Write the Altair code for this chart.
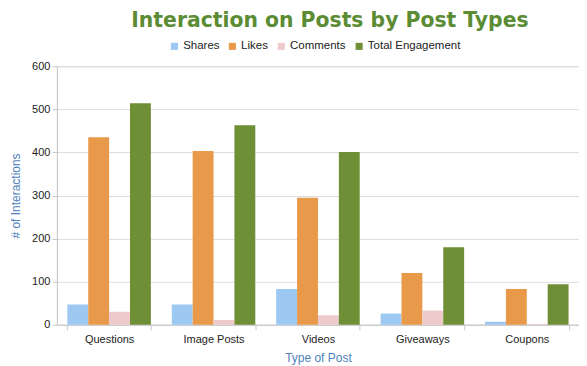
import altair as alt
import pandas as pd

categories = ["Questions", "Image Posts", "Videos", "Giveaways", "Coupons"]
series = ["Shares", "Likes", "Comments", "Total Engagement"]
shares = [47, 47, 83, 26, 7]
likes = [435, 403, 295, 120, 83]
comments = [30, 11, 22, 33, 2]
total = [514, 463, 401, 180, 94]
colors = ["#9CC8F2", "#E8994A", "#EECACA", "#6F8F36"]

rows = []
for i, c in enumerate(categories):
    for s, vals in zip(series, [shares, likes, comments, total]):
        rows.append({"Type": c, "Series": s, "Value": vals[i]})
df = pd.DataFrame(rows)

chart = alt.Chart(df).mark_bar().encode(
    x=alt.X("Type:N", sort=categories, title="Type of Post",
            scale=alt.Scale(paddingInner=0.2, paddingOuter=0.1),
            axis=alt.Axis(labelAngle=0, labelFontSize=11, labelColor="#222222",
                          titleColor="#4F81BD", titleFontSize=12, titleFontWeight="normal",
                          titlePadding=8, domainColor="#C8C8C8", tickColor="#C8C8C8",
                          tickBand="extent", labelPadding=4)),
    xOffset=alt.XOffset("Series:N", sort=series),
    y=alt.Y("Value:Q", title="# of Interactions",
            scale=alt.Scale(domain=[0, 600]),
            axis=alt.Axis(values=[0, 100, 200, 300, 400, 500, 600], labelFontSize=11,
                          labelColor="#222222", titleColor="#4F81BD", titleFontSize=12,
                          titleFontWeight="normal", titlePadding=9, gridColor="#DDDDDD",
                          domainColor="#C8C8C8", tickColor="#C8C8C8", tickSize=5)),
    color=alt.Color("Series:N", sort=series,
                    scale=alt.Scale(domain=series, range=colors),
                    legend=alt.Legend(orient="none", legendX=112, legendY=-26,
                                      direction="horizontal", title=None,
                                      symbolType="square", symbolSize=50, symbolStrokeWidth=0,
                                      labelFontSize=11.5, labelColor="#222222", labelOffset=3,
                                      columnPadding=7, symbolOffset=0)),
).properties(
    width=523, height=259,
    title=alt.TitleParams("Interaction on Posts by Post Types", fontSize=20.4,
                          fontWeight="bold", color="#5B8C34", font="DejaVu Sans",
                          anchor="middle", dx=12, offset=9),
    autosize=alt.AutoSizeParams(type="none"),
    padding={"left": 49, "top": 58, "right": 0, "bottom": 40},
).configure(font="Liberation Sans").configure_view(stroke="#D0D0D0", strokeWidth=1)

chart.save("out.html", embed_options={"renderer": "svg", "actions": False})
